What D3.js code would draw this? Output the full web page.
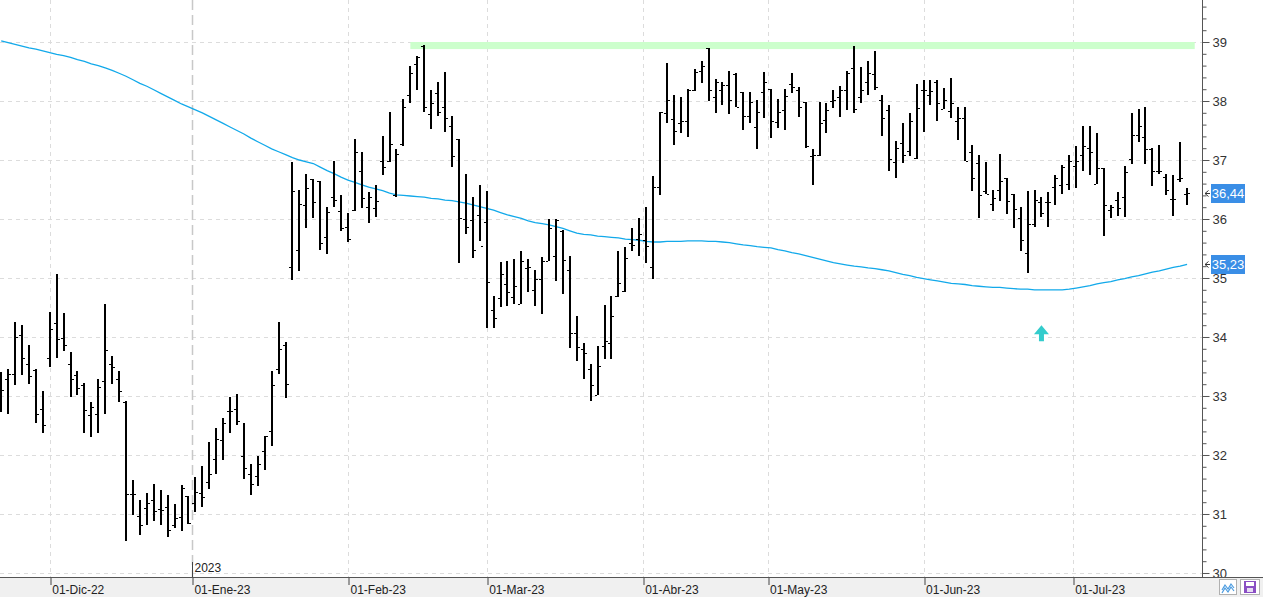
<!DOCTYPE html>
<html><head><meta charset="utf-8">
<script src="https://cdn.jsdelivr.net/npm/d3@7"></script>
<style>
html,body{margin:0;padding:0;background:#fff;}
svg{display:block;font-family:"Liberation Sans",Arial,sans-serif;}
</style></head>
<body><svg id="c" width="1263" height="597"></svg>
<script>
// ---- DATA ----
const opens = [33.30,33.28,33.37,34.03,33.54,33.44,32.78,33.64,34.24,33.99,33.54,33.36,33.19,32.68,32.69,33.25,33.54,33.28,32.90,31.34,
30.97,31.10,31.24,31.09,31.12,30.81,30.95,31.31,31.19,31.36,31.55,31.93,32.26,32.75,32.78,31.98,31.68,31.64,32.07,32.40,
33.46,33.86,35.19,35.48,36.23,36.67,36.64,35.70,36.38,36.13,35.87,36.16,36.82,36.21,36.18,36.98,36.98,36.41,37.27,38.11,
38.62,38.94,37.78,38.13,37.89,37.58,37.35,36.00,35.98,36.07,35.95,34.46,34.66,34.90,34.67,34.56,35.17,34.80,34.99,35.28,
35.38,35.79,35.13,34.07,33.80,33.45,33.02,33.84,33.89,34.69,34.78,35.60,35.66,35.64,35.19,36.54,37.80,37.70,37.62,37.66,
38.19,38.51,38.89,38.06,38.18,38.27,38.46,38.15,37.74,37.56,38.15,38.21,37.64,37.84,38.28,38.18,37.99,37.06,37.08,37.67,
38.00,38.06,38.18,38.56,38.06,38.32,38.46,38.01,37.84,36.97,37.28,37.16,37.03,38.19,38.10,38.32,37.86,37.83,37.66,37.72,
37.13,36.95,36.48,36.26,36.50,36.69,36.42,36.01,35.43,35.92,36.29,36.29,36.55,36.58,36.59,36.90,37.08,37.21,36.60,36.87,
36.16,36.33,36.38,37.02,37.43,37.39,37.19,36.81,36.72,36.34,36.67,36.43];
const highs = [33.41,33.46,34.26,34.20,33.86,33.46,33.08,34.42,35.06,34.41,33.75,33.43,33.22,32.89,33.28,34.56,33.68,33.43,32.91,31.57,
31.24,31.36,31.51,31.40,31.32,31.17,31.49,31.31,31.63,31.82,32.22,32.45,32.62,32.98,33.04,32.55,31.85,31.99,32.33,33.43,
34.26,33.92,36.96,36.50,36.76,36.67,36.64,36.20,36.98,36.40,36.11,37.35,37.13,36.46,36.58,37.40,37.81,37.19,38.04,38.60,
38.77,38.95,38.18,38.33,38.50,37.75,37.35,36.77,36.38,36.57,36.48,34.70,35.27,35.29,35.32,35.46,35.33,35.13,35.36,36.00,
36.00,35.81,35.38,34.35,33.89,33.54,33.84,34.55,34.69,35.46,35.52,35.84,36.01,36.20,36.73,37.81,38.64,38.11,38.06,38.20,
38.55,38.67,38.89,38.37,38.32,38.51,38.47,38.15,38.15,38.01,38.50,38.21,38.03,38.20,38.47,38.23,37.99,37.18,37.98,37.96,
38.18,38.25,38.51,38.93,38.57,38.67,38.84,38.11,37.93,37.33,37.62,37.80,38.28,38.36,38.36,38.36,38.22,38.39,37.89,37.89,
37.25,37.08,36.96,36.50,37.10,36.69,36.42,36.20,36.48,36.50,36.37,36.45,36.75,36.92,37.09,37.24,37.57,37.57,37.46,36.87,
36.23,36.46,36.90,37.79,37.87,37.89,37.21,37.25,36.77,36.75,37.31,36.52];
const lows = [32.73,32.69,33.18,33.36,33.21,32.54,32.38,33.49,33.64,33.77,32.99,33.02,32.38,32.30,32.38,32.69,33.21,32.90,30.54,30.98,
30.65,30.82,30.88,30.82,30.61,30.76,30.72,30.83,31.03,31.12,31.42,31.68,31.91,32.38,32.50,31.59,31.32,31.47,31.74,32.16,
33.38,32.96,34.97,35.12,35.85,36.02,35.47,35.40,36.20,35.80,35.61,36.14,36.19,35.93,36.03,36.75,36.97,36.37,37.23,37.97,
38.18,37.82,37.53,37.74,37.47,36.88,35.25,35.74,35.34,35.62,34.15,34.15,34.51,34.53,34.56,34.56,34.76,34.53,34.39,35.28,
34.95,34.73,33.81,33.60,33.28,32.92,33.02,33.63,33.63,34.67,34.76,35.46,35.37,35.26,34.99,36.41,37.63,37.25,37.46,37.39,
38.17,38.31,38.00,37.80,37.93,37.78,37.89,37.51,37.63,37.19,37.71,37.37,37.54,37.51,38.14,37.73,37.21,36.58,37.07,37.46,
37.88,37.73,37.84,37.79,37.97,38.11,38.19,37.40,36.81,36.70,36.95,37.06,37.01,37.47,37.93,37.66,37.86,37.72,37.34,36.98,
36.48,36.02,36.43,36.14,36.30,36.08,35.85,35.45,35.08,35.86,36.03,35.86,36.24,36.42,36.50,36.52,36.82,36.75,36.60,35.71,
36.02,36.05,36.03,36.94,37.31,36.93,36.56,36.77,36.41,36.05,36.62,36.24];
const closes = [33.11,33.38,34.00,33.64,33.34,32.69,32.50,34.14,33.97,33.86,33.29,33.14,32.76,32.82,33.15,33.78,33.49,33.08,31.34,31.34,
30.81,31.19,31.05,31.06,30.73,30.94,31.44,30.85,31.37,31.28,31.68,32.27,32.54,32.75,32.57,31.78,31.51,31.85,32.33,33.19,
33.80,33.20,36.48,36.26,36.53,36.28,35.60,36.12,36.33,35.85,35.66,37.14,36.36,36.37,36.30,36.88,37.27,37.10,37.90,38.48,
38.74,37.89,37.96,37.81,37.71,37.06,36.02,35.87,35.48,35.54,34.94,34.33,35.06,34.77,34.86,35.29,35.19,34.98,35.29,35.84,
35.99,35.30,34.07,33.83,33.73,33.18,33.51,33.94,34.35,34.92,35.34,35.56,35.74,35.55,36.55,37.81,38.02,37.49,37.66,38.19,
38.50,38.60,38.19,38.33,38.27,38.02,37.89,37.75,37.98,37.82,38.33,37.66,37.82,38.09,38.24,37.89,37.23,37.08,37.63,37.84,
38.02,38.19,38.48,37.86,38.18,38.47,38.24,37.72,37.01,37.20,37.09,37.66,37.88,38.19,38.17,37.97,38.02,37.97,37.71,36.99,
36.70,36.41,36.43,36.36,36.65,36.31,36.17,35.65,35.92,36.33,36.10,36.29,36.70,36.88,36.99,36.99,37.24,37.13,36.87,36.24,
36.20,36.19,36.80,37.43,37.58,37.19,36.81,36.82,36.50,36.34,36.70,36.44];
const movingAvg = [39.02,38.99,38.96,38.93,38.90,38.88,38.85,38.82,38.79,38.77,38.74,38.70,38.67,38.63,38.60,38.56,38.52,38.47,38.42,38.36,
38.30,38.25,38.19,38.13,38.07,38.01,37.95,37.90,37.85,37.80,37.74,37.68,37.62,37.56,37.50,37.44,37.37,37.31,37.25,37.19,
37.14,37.09,37.04,37.00,36.97,36.94,36.88,36.82,36.77,36.71,36.66,36.62,36.58,36.54,36.51,36.48,36.44,36.41,36.40,36.39,
36.38,36.37,36.35,36.34,36.32,36.31,36.29,36.27,36.24,36.21,36.18,36.15,36.11,36.07,36.04,36.01,35.97,35.94,35.92,35.90,
35.87,35.84,35.80,35.76,35.74,35.73,35.71,35.70,35.69,35.68,35.66,35.65,35.64,35.62,35.61,35.61,35.62,35.62,35.62,35.63,
35.63,35.63,35.62,35.62,35.61,35.60,35.58,35.56,35.55,35.53,35.52,35.51,35.48,35.46,35.43,35.41,35.38,35.35,35.32,35.29,
35.26,35.24,35.22,35.20,35.19,35.17,35.16,35.14,35.12,35.09,35.06,35.04,35.01,34.99,34.97,34.95,34.93,34.91,34.90,34.89,
34.87,34.86,34.85,34.84,34.84,34.83,34.82,34.81,34.81,34.80,34.80,34.80,34.80,34.80,34.81,34.83,34.85,34.87,34.90,34.92,
34.94,34.97,34.99,35.02,35.04,35.07,35.10,35.12,35.15,35.18,35.20,35.23];
const monthLabels = ["01-Dic-22","01-Ene-23","01-Feb-23","01-Mar-23","01-Abr-23","01-May-23","01-Jun-23","01-Jul-23"];
const monthFirstBar = [7,28,50,70,93,111,133,155];
const monthStartsOnBar = [true,false,true,true,false,false,true,false];
const yearLabel = "2023";
const yearMonthIndex = 1;
const yTickValues = [30,31,32,33,34,35,36,37,38,39];
const zoneBars = [59,172.1];
const zoneValues = [38.88,39.0];
const signalBars = [150];
const signalValues = [34.2];
const lastPriceLabel = "36,44";
const lastAvgLabel = "35,23";

// ---- LAYOUT ----
const W = 1263, H = 597;
const plotR = 1202, plotB = 577;
const svg = d3.select("#c");
const x = d3.scaleLinear().domain([-0.173, 173.15]).range([0, plotR]);
const y = d3.scaleLinear().domain([29.932, 39.712]).range([plotB, 0]);
const bars = opens.map((o,i)=>({i,o,h:highs[i],l:lows[i],c:closes[i]}));

// backgrounds
svg.append("rect").attr("x",0).attr("y",0).attr("width",W).attr("height",H).attr("fill","#fff");
svg.append("rect").attr("x",0).attr("y",plotB).attr("width",W).attr("height",H-plotB).attr("fill","#f0f0f0");

svg.append("clipPath").attr("id","clip").append("rect").attr("x",0).attr("y",0).attr("width",plotR).attr("height",plotB);
const g = svg.append("g").attr("clip-path","url(#clip)");

// horizontal grid
g.selectAll("line.hg").data(yTickValues).join("line")
  .attr("x1",0).attr("x2",plotR)
  .attr("y1",d=>Math.round(y(d))+0.5).attr("y2",d=>Math.round(y(d))+0.5)
  .attr("stroke","#dcdcdc").attr("stroke-dasharray","4,4");
// vertical grid
const tickPos = monthFirstBar.map((b,k)=> monthStartsOnBar[k] ? b : b-0.5);
g.selectAll("line.vg").data(tickPos).join("line")
  .attr("x1",d=>Math.round(x(d))+0.5).attr("x2",d=>Math.round(x(d))+0.5)
  .attr("y1",0).attr("y2",plotB)
  .attr("stroke",(d,k)=>k===yearMonthIndex?"#c8c8c8":"#dcdcdc")
  .attr("stroke-width",(d,k)=>k===yearMonthIndex?1.5:1)
  .attr("stroke-dasharray",(d,k)=>k===yearMonthIndex?"10,5":"4,4");

// resistance zone
g.append("rect")
  .attr("x",x(zoneBars[0])).attr("width",x(zoneBars[1])-x(zoneBars[0]))
  .attr("y",y(zoneValues[1])).attr("height",y(zoneValues[0])-y(zoneValues[1]))
  .attr("fill","#ccffcc");

// moving average
g.append("path").datum(movingAvg)
  .attr("d",d3.line().x((d,i)=>x(i)).y(d=>y(d)))
  .attr("fill","none").attr("stroke","#12a9ea").attr("stroke-width",1.3);

// OHLC bars
const bg = g.append("g");
bars.forEach(b=>{
  const cx = Math.round(x(b.i));
  bg.append("rect").attr("x",cx-1).attr("width",2)
    .attr("y",Math.round(y(b.h))).attr("height",Math.max(1,Math.round(y(b.l))-Math.round(y(b.h))))
    .attr("fill","#000");
  bg.append("rect").attr("x",cx-3).attr("width",2).attr("y",Math.round(y(b.o))).attr("height",1).attr("fill","#000");
  bg.append("rect").attr("x",cx+1).attr("width",2).attr("y",Math.round(y(b.c))).attr("height",1).attr("fill","#000");
});

// signal arrows
signalBars.forEach((b,k)=>{
  const cx = x(b), ty = y(signalValues[k]);
  g.append("path")
    .attr("d",`M${cx},${ty} L${cx+7.5},${ty+9} L${cx+2.5},${ty+9} L${cx+2.5},${ty+16} L${cx-2.5},${ty+16} L${cx-2.5},${ty+9} L${cx-7.5},${ty+9} Z`)
    .attr("fill","#33cccc");
});

// right axis
const yMinor = d3.range(30,39.71,0.2).map(v=>+v.toFixed(1)).filter(v=>Math.abs(v-Math.round(v))>0.01);
const axR = svg.append("g").attr("transform",`translate(${plotR+0.5},0)`);
axR.call(d3.axisRight(y).tickValues(yMinor).tickSize(4).tickFormat(""));
const axR2 = svg.append("g").attr("transform",`translate(${plotR+0.5},0)`);
axR2.call(d3.axisRight(y).tickValues(yTickValues).tickSize(7).tickPadding(3).tickFormat(d3.format("d")));
[axR,axR2].forEach(a=>{
  a.select(".domain").remove();
  a.selectAll("line").attr("stroke","#555");
  a.selectAll("text").attr("fill","#333").attr("font-size",13).attr("font-family","Liberation Sans, Arial, sans-serif");
});
svg.append("line").attr("x1",plotR+0.5).attr("x2",plotR+0.5).attr("y1",0).attr("y2",plotB).attr("stroke","#555");
// clip label 30 under the bottom band
svg.append("rect").attr("x",plotR+1).attr("y",plotB).attr("width",W-plotR).attr("height",H-plotB).attr("fill","#f0f0f0");

// bottom axis
const axB = svg.append("g").attr("transform",`translate(0,${plotB})`);
axB.call(d3.axisBottom(x).tickValues(tickPos).tickSize(8).tickPadding(4).tickFormat((d,k)=>monthLabels[k]));
axB.select(".domain").remove();
axB.selectAll("line").attr("stroke","#444").attr("transform",d=>`translate(${Math.round(x(d))+0.5-x(d)},0)`);
axB.selectAll("text").attr("text-anchor","start").attr("dx",2).attr("dy","0.45em")
  .attr("fill","#222").attr("font-size",12).attr("font-family","Liberation Sans, Arial, sans-serif");
svg.append("line").attr("x1",0).attr("x2",W).attr("y1",plotB+0.5).attr("y2",plotB+0.5).attr("stroke","#555");

// year marker
const yx = Math.round(x(tickPos[yearMonthIndex]))+0.5;
svg.append("line").attr("x1",yx).attr("x2",yx).attr("y1",562).attr("y2",plotB).attr("stroke","#444");
svg.append("text").attr("x",yx+2).attr("y",572).text(yearLabel)
  .attr("font-size",12).attr("fill","#222").attr("font-family","Liberation Sans, Arial, sans-serif");

// value badges
function badge(val,label,color){
  const cy = Math.round(y(val))+0.5;
  svg.append("rect").attr("x",1211).attr("y",cy-9.5).attr("width",34).attr("height",19).attr("fill",color);
  svg.append("text").attr("x",1228).attr("y",cy+4.5).attr("text-anchor","middle").text(label)
    .attr("fill","#fff").attr("font-size",13).attr("font-family","Liberation Sans, Arial, sans-serif");
  svg.append("path").attr("d",`M${1208.5},${cy-3} L${1205},${cy} L${1208.5},${cy+3} M${1205},${cy} L${1210},${cy}`)
    .attr("fill","none").attr("stroke","#333").attr("stroke-width",1);
}
badge(closes[closes.length-1],lastPriceLabel,"#3a8ee6");
badge(movingAvg[movingAvg.length-1],lastAvgLabel,"#3a8ee6");

// bottom-right buttons
svg.append("rect").attr("x",1219.5).attr("y",579.5).attr("width",17).attr("height",15).attr("fill","#fff").attr("stroke","#b0b0b0");
svg.append("path").attr("d","M1222,590 L1225,585 L1228,589 L1231,584 L1234,588 M1222,593 L1225,588 L1228,592 L1231,587 L1234,591")
  .attr("fill","none").attr("stroke","#4a9be0").attr("stroke-width",1.2);
svg.append("rect").attr("x",1240.5).attr("y",579.5).attr("width",19).attr("height",15).attr("fill","#fff").attr("stroke","#b0b0b0");
svg.append("rect").attr("x",1244).attr("y",581).attr("width",12).attr("height",12).attr("fill","#8a4fc4");
svg.append("rect").attr("x",1246).attr("y",582).attr("width",8).attr("height",4).attr("fill","#fff");
svg.append("rect").attr("x",1247).attr("y",588).attr("width",6).attr("height",4).attr("fill","#e6dcf2");
</script></body></html>
